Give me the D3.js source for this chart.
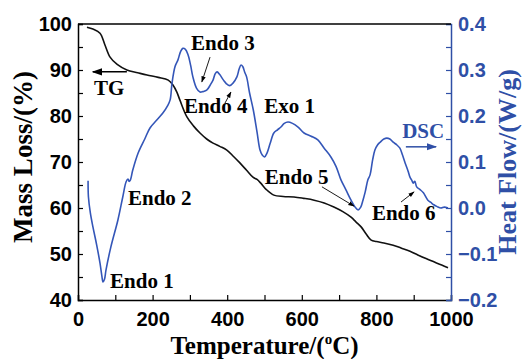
<!DOCTYPE html>
<html>
<head>
<meta charset="utf-8">
<script src="https://cdn.jsdelivr.net/npm/d3@7/dist/d3.min.js"></script>
<style>
  body { margin: 0; background: #fff; }
  .tick text { font-family: "Liberation Sans", Arial, sans-serif; font-weight: bold; font-size: 20px; }
  .ttl { font-family: "Liberation Serif", "Times New Roman", serif; font-weight: bold; }
</style>
</head>
<body>
<div id="chart"></div>
<script>
// TG curve: temperature (C) vs mass (%)
const tgTemp = [24,40,59,72,86,105,131,160,185,215,242,255,265,273,292,310,327,345,362,380,399,417,434,452,469,480,490,505,525,550,579,605,633,660,686,710,732,745,759,772,786,800,820,845,866,890,911,933,954,975,992];
const tgMass = [99.3,98.9,98,95.5,92.8,91.2,90,89.4,88.9,88.4,87.8,86.7,85.2,83.5,79.8,77.8,76.3,75,74.1,73.4,72.6,71.2,69.8,68.2,66.7,66.2,65.4,64,62.8,62.5,62.4,62.1,61.7,61.1,60.2,59.2,58,57,55.9,54.4,53,52.7,52.4,51.9,51.3,50.6,49.8,49,48.3,47.6,47];

// DSC curve: temperature (C) vs heat flow (W/g)
const dscTemp = [27,28,33,40,50,59,64,67,71,75,88,107,120,129,134,137,140,147,161,179,193,210,228,240,247,252,260,268,275,281,288,295,302,308,318,327,335,345,355,362,368,373,380,390,398,407,416,426,432,437,442,447,452,460,470,480,488,494,500,507,515,525,535,544,553,563,575,590,606,625,643,660,678,692,705,718,732,742,751,758,764,770,777,783,790,796,803,810,820,828,836,845,855,863,870,877,885,890,895,899,903,908,917,926,938,946,954,963,973,982,992];
const dscFlow = [0.059,0.024,-0.01,-0.041,-0.08,-0.12,-0.148,-0.161,-0.155,-0.135,-0.085,-0.026,0.024,0.057,0.063,0.058,0.06,0.083,0.119,0.15,0.174,0.19,0.207,0.222,0.235,0.271,0.307,0.322,0.34,0.347,0.345,0.333,0.31,0.285,0.26,0.252,0.253,0.256,0.268,0.278,0.292,0.296,0.29,0.278,0.27,0.266,0.272,0.285,0.302,0.311,0.307,0.295,0.285,0.25,0.213,0.165,0.126,0.115,0.111,0.12,0.14,0.163,0.17,0.176,0.184,0.187,0.184,0.176,0.163,0.156,0.148,0.13,0.111,0.09,0.061,0.04,0.017,0.003,-0.004,0.002,0.017,0.035,0.061,0.072,0.105,0.126,0.137,0.143,0.15,0.152,0.15,0.143,0.137,0.13,0.115,0.098,0.08,0.067,0.06,0.054,0.058,0.046,0.04,0.033,0.017,0.012,0.007,0.003,0,0.002,0];

const xTicks = [0,200,400,600,800,1000];
const yLeftTicks = [40,50,60,70,80,90,100];
const yRightTicks = [-0.2,-0.1,0.0,0.1,0.2,0.3,0.4];

// labels: text, temperature, mass (left scale)
const labelText = ["Endo 1","Endo 2","Endo 3","Endo 4","Exo 1","Endo 5","Endo 6","TG","DSC"];
const labelT    = [86,134,303,284,499,501,788,43,869];
const labelM    = [42.6,60.7,94.3,80.7,80.7,65.2,57.4,84.6,75.2];
// arrows: from (t0,m0) to (t1,m1) in data units of left scale
const arrowT0 = [131,879,354,394,654,866];
const arrowM0 = [89.6,73.3,92.8,82.8,64.6,61.3];
const arrowT1 = [40,960,332,410,740,901];
const arrowM1 = [89.6,73.3,87.4,85.2,60.4,63.5];

const blue = "#2f4fa6";
const width = 522, height = 359;
const m = { left: 78, right: 71, top: 24, bottom: 59 };

const x = d3.scaleLinear().domain([0, 1000]).range([m.left, width - m.right]);
const yL = d3.scaleLinear().domain([40, 100]).range([height - m.bottom, m.top]);
const yR = d3.scaleLinear().domain([-0.2, 0.4]).range([height - m.bottom, m.top]);

const svg = d3.select("#chart").append("svg")
  .attr("width", width).attr("height", height);

const defs = svg.append("defs");
[["ahBlack", "#000"], ["ahBlue", blue]].forEach(([id, c]) => {
  defs.append("marker").attr("id", id)
    .attr("viewBox", "0 0 10 10").attr("refX", 9).attr("refY", 5)
    .attr("markerWidth", 7).attr("markerHeight", 7).attr("orient", "auto")
    .append("path").attr("d", "M0,1.5L10,5L0,8.5z").attr("fill", c);
});

// axes
const xAxis = svg.append("g")
  .attr("transform", "translate(0," + (height - m.bottom) + ")")
  .call(d3.axisBottom(x).tickValues(d3.range(0, 1001, 100)).tickSize(-5).tickPadding(12)
    .tickFormat(d => xTicks.includes(d) ? d : ""));
xAxis.selectAll("text").attr("dy", "0.71em");

svg.append("g")
  .attr("transform", "translate(" + m.left + ",0)")
  .call(d3.axisLeft(yL).tickValues(d3.range(40, 101, 5)).tickSize(-5).tickPadding(6)
    .tickFormat(d => yLeftTicks.includes(d) ? d : ""));

const rAxis = svg.append("g")
  .attr("transform", "translate(" + (width - m.right) + ",0)")
  .call(d3.axisRight(yR).tickValues(d3.range(-4, 9).map(i => i * 0.05)).tickSize(-5).tickPadding(7)
    .tickFormat(d => {
      const r = Math.round(d * 100);
      return r % 10 === 0 ? d3.format(".1f")(r / 100) : "";
    }));
rAxis.selectAll("line, path").attr("stroke", blue);
rAxis.selectAll("text").attr("fill", blue);

svg.selectAll(".domain").attr("stroke-width", 1.5);
svg.selectAll(".tick line").attr("stroke-width", 1.2);

// top border
svg.append("line")
  .attr("x1", x(0)).attr("x2", x(1000))
  .attr("y1", m.top).attr("y2", m.top)
  .attr("stroke", "#000").attr("stroke-width", 1.5);

// curves
const tgLine = d3.line().x(d => x(d[0])).y(d => yL(d[1])).curve(d3.curveCatmullRom);
const dscLine = d3.line().x(d => x(d[0])).y(d => yR(d[1])).curve(d3.curveCatmullRom);

svg.append("path")
  .datum(tgTemp.map((t, i) => [t, tgMass[i]]))
  .attr("fill", "none").attr("stroke", "#111").attr("stroke-width", 1.6)
  .attr("d", tgLine);

svg.append("path")
  .datum(dscTemp.map((t, i) => [t, dscFlow[i]]))
  .attr("fill", "none").attr("stroke", "#3456b8").attr("stroke-width", 1.6)
  .attr("d", dscLine);

// annotations
svg.selectAll(".lbl").data(labelText).enter().append("text")
  .attr("class", "ttl lbl")
  .attr("x", (d, i) => x(labelT[i]))
  .attr("y", (d, i) => yL(labelM[i]))
  .attr("font-size", 21)
  .attr("fill", d => d === "DSC" ? blue : "#000")
  .text(d => d);

svg.selectAll(".arr").data(arrowT0).enter().append("line")
  .attr("x1", (d, i) => x(arrowT0[i])).attr("y1", (d, i) => yL(arrowM0[i]))
  .attr("x2", (d, i) => x(arrowT1[i])).attr("y2", (d, i) => yL(arrowM1[i]))
  .attr("stroke", (d, i) => i === 1 ? blue : "#000")
  .attr("stroke-width", (d, i) => i < 2 ? 1.5 : 0.9)
  .attr("marker-end", (d, i) => i === 1 ? "url(#ahBlue)" : "url(#ahBlack)");

// axis titles
const xt = svg.append("text").attr("class", "ttl")
  .attr("x", (x(0) + x(1000)) / 2).attr("y", 354)
  .attr("text-anchor", "middle").attr("font-size", 25);
xt.append("tspan").text("Temperature/(");
xt.append("tspan").attr("font-size", 15).attr("dy", -10).text("o");
xt.append("tspan").attr("dy", 10).text("C)");

svg.append("text").attr("class", "ttl")
  .attr("transform", "translate(32," + 157 + ") rotate(-90)")
  .attr("text-anchor", "middle").attr("font-size", 27)
  .text("Mass Loss/(%)");

svg.append("text").attr("class", "ttl")
  .attr("transform", "translate(516," + 162 + ") rotate(-90)")
  .attr("text-anchor", "middle").attr("font-size", 26)
  .attr("fill", blue)
  .text("Heat Flow/(W/g)");
</script>
</body>
</html>
